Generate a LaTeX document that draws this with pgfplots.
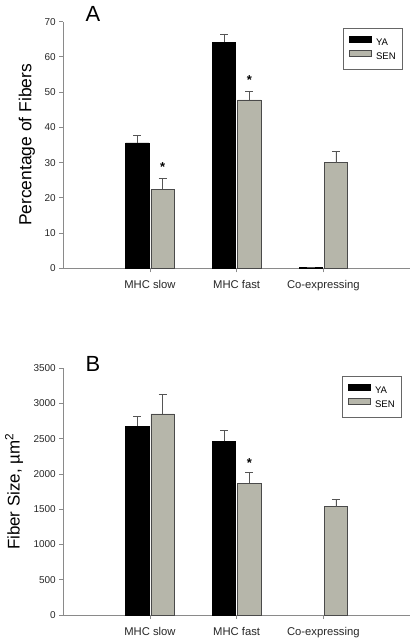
\documentclass[border=0pt]{standalone}
\usepackage{fontspec}
\setmainfont{Liberation Sans}
\usepackage{pgfplots}
\pgfplotsset{compat=1.18}
\definecolor{sen}{HTML}{B6B6AA}
\definecolor{axgray}{HTML}{8A8A8A}
\definecolor{errgray}{HTML}{555555}
\definecolor{edgegray}{HTML}{4A4A4A}
\pgfplotsset{
  panel/.style={
    scale only axis, width=346.7bp, height=246.7bp,
    xmin=0, xmax=4, ymin=0,
    axis x line*=bottom, axis y line*=left,
    axis line style={axgray, line width=0.8bp},
    every tick/.style={axgray, line width=0.8bp},
    tick align=outside, major tick length=4bp,
    xtick={1,2,3}, xticklabels={MHC slow, MHC fast, Co-expressing},
    x tick label style={font=\fontsize{11.3}{13}\selectfont, text=black!85, yshift=-4.5bp},
    y tick label style={font=\fontsize{10}{12}\selectfont, text=black!85},
    /pgf/number format/assume math mode=true,
    /pgf/number format/1000 sep={},
    scaled y ticks=false,
    ybar=2bp, bar width=23.3bp,
    every axis y label/.style={rotate=90, anchor=center, font=\fontsize{17.5}{20}\selectfont},
    legend style={anchor=north east, draw=black!60, line width=0.7bp,
      font=\fontsize{9.6}{10}\selectfont, inner xsep=5.5bp, inner ysep=7.5bp,
      row sep=1.9bp,
      nodes={inner sep=1.5bp, text height=6.8bp, text depth=1.5bp},
      /tikz/every odd column/.append style={column sep=3bp}},
    legend cell align=left,
    error bars/error bar style={errgray, line width=0.8bp},
    error bars/error mark options={errgray, line width=0.8bp, mark size=4bp, rotate=90},
  },
  ya/.style={fill=black, draw=black, line width=0.6bp,
    legend image code/.code={\draw[fill=black, draw=black, line width=0.6bp] (0bp,0bp) rectangle (22bp,6.3bp);},
    error bars/.cd, y dir=plus, y explicit},
  senbar/.style={fill=sen, draw=edgegray, line width=0.6bp,
    legend image code/.code={\draw[fill=sen, draw=edgegray, line width=0.6bp] (0bp,0bp) rectangle (22bp,6.3bp);},
    error bars/.cd, y dir=plus, y explicit},
}
\begin{document}
\begin{tikzpicture}[x=1bp,y=1bp]
\useasboundingbox (0,0) rectangle (415,-642);
% Panel A
\begin{axis}[panel, at={(63.3bp,-268.3bp)}, anchor=south west,
  ymax=70, ytick={0,10,...,70},
  ylabel={Percentage of Fibers},
  every axis y label/.append style={at={(axis description cs:-0.105,0.5)}},
  legend style={at={(0.98,0.974)}}]
\addplot[ya] coordinates {(1,35.6) +- (0,2.2) (2,64.2) +- (0,2.3) (3,0.2) +- (0,0)};
\addlegendentry{YA}
\addplot[senbar] coordinates {(1,22.4) +- (0,3.1) (2,47.8) +- (0,2.5) (3,30.0) +- (0,3.1)};
\addlegendentry{SEN}
\node[font=\bfseries\fontsize{13}{13}\selectfont, xshift=12.65bp] at (axis cs:1,28.7) {*};
\node[font=\bfseries\fontsize{13}{13}\selectfont, xshift=12.65bp] at (axis cs:2,53.4) {*};
\end{axis}
% Panel B
\begin{axis}[panel, at={(63.3bp,-615bp)}, anchor=south west,
  ymax=3500, ytick={0,500,...,3500},
  ylabel={Fiber Size, µm\textsuperscript{2}},
  every axis y label/.append style={at={(axis description cs:-0.142,0.5)}, font=\fontsize{17}{20}\selectfont},
  legend style={at={(0.977,0.969)}}]
\addplot[ya] coordinates {(1,2681) +- (0,132) (2,2464) +- (0,156)};
\addlegendentry{YA}
\addplot[senbar] coordinates {(1,2852) +- (0,279) (2,1868) +- (0,151) (3,1537) +- (0,104)};
\addlegendentry{SEN}
\node[font=\bfseries\fontsize{13}{13}\selectfont, xshift=12.65bp] at (axis cs:2,2156) {*};
\end{axis}
\node[anchor=base west, font=\fontsize{22}{24}\selectfont, inner sep=0pt] at (85.5,-21.7) {A};
\node[anchor=base west, font=\fontsize{22}{24}\selectfont, inner sep=0pt] at (85.5,-371.7) {B};
\end{tikzpicture}
\end{document}
